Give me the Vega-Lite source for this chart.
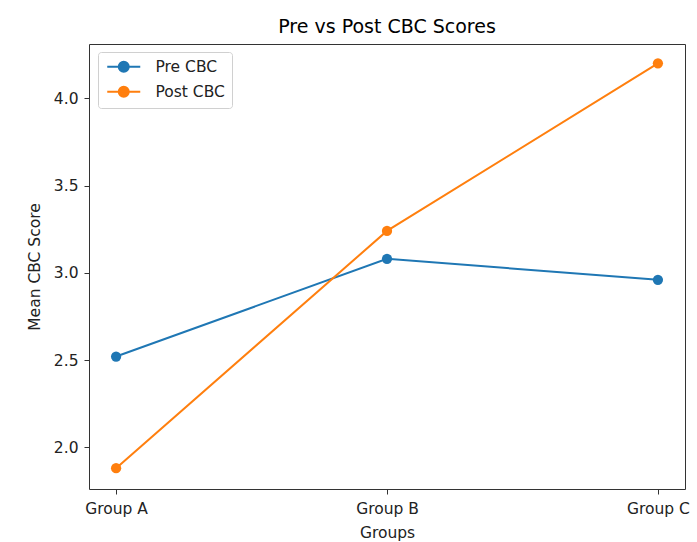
{
  "$schema": "https://vega.github.io/schema/vega-lite/v6.json",
  "width": 596,
  "height": 445,
  "autosize": {"type": "none"},
  "padding": {"left": 89, "top": 44, "right": 12, "bottom": 53},
  "background": "white",
  "title": {"text": "Pre vs Post CBC Scores", "fontSize": 19, "font": "DejaVu Sans", "fontWeight": "normal", "offset": 7, "color": "#000"},
  "config": {
    "view": {"stroke": "#333", "strokeWidth": 1},
    "font": "DejaVu Sans",
    "axis": {
      "grid": false, "domain": false, "tickSize": 5, "tickColor": "#333", "tickWidth": 1,
      "labelFont": "DejaVu Sans", "labelFontSize": 15.5, "labelColor": "#222",
      "titleFont": "DejaVu Sans", "titleFontSize": 15.5, "titleFontWeight": "normal", "titleColor": "#222"
    }
  },
  "data": {"values": [
    {"group": "Group A", "series": "Pre CBC", "score": 2.52},
    {"group": "Group B", "series": "Pre CBC", "score": 3.08},
    {"group": "Group C", "series": "Pre CBC", "score": 2.96},
    {"group": "Group A", "series": "Post CBC", "score": 1.88},
    {"group": "Group B", "series": "Post CBC", "score": 3.24},
    {"group": "Group C", "series": "Post CBC", "score": 4.2}
  ]},
  "encoding": {
    "x": {"field": "group", "type": "nominal", "sort": ["Group A", "Group B", "Group C"],
      "scale": {"type": "point", "padding": 0.1},
      "axis": {"title": "Groups", "labelAngle": 0, "labelPadding": 7, "titlePadding": 9}},
    "y": {"field": "score", "type": "quantitative",
      "scale": {"domain": [1.761, 4.311], "nice": false, "zero": false},
      "axis": {"title": "Mean CBC Score", "values": [2, 2.5, 3, 3.5, 4], "format": ".1f", "labelPadding": 6, "titlePadding": 11}},
    "color": {"field": "series", "type": "nominal", "sort": ["Pre CBC", "Post CBC"],
      "scale": {"domain": ["Pre CBC", "Post CBC"], "range": ["#1f77b4", "#ff7f0e"]},
      "legend": {
        "title": null, "orient": "none", "legendX": 9, "legendY": 8,
        "strokeColor": "#d0d0d0", "fillColor": "white", "cornerRadius": 3, "padding": 7,
        "symbolType": "M-3.3,0H3.3M1,0A1,1 0 1,1 -1,0A1,1 0 1,1 1,0Z",
        "symbolSize": 100, "symbolStrokeWidth": 2, "symbolOffset": 11, "symbolOpacity": 1,
        "labelFont": "DejaVu Sans", "labelFontSize": 15.5, "labelColor": "#222", "labelOffset": 24,
        "rowPadding": 6,
        "encode": {"symbols": {"update": {"fill": {"scale": "color", "field": "value"}, "stroke": {"scale": "color", "field": "value"}, "opacity": {"value": 1}}}}
      }}
  },
  "layer": [
    {"mark": {"type": "line", "strokeWidth": 2}},
    {"mark": {"type": "point", "filled": true, "size": 105, "opacity": 1}}
  ]
}
